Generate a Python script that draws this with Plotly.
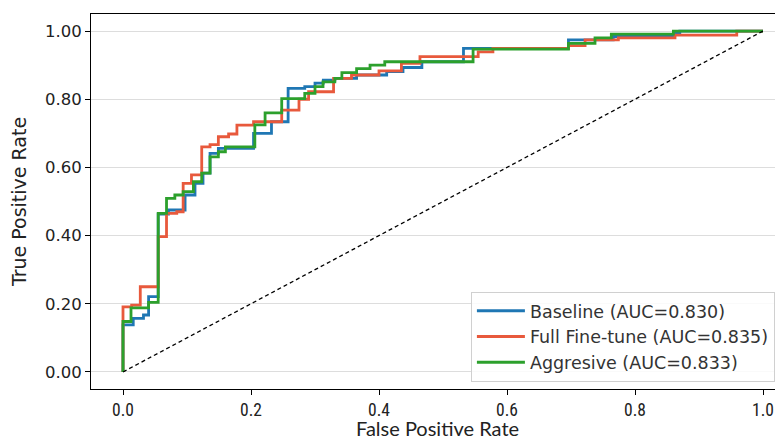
import plotly.graph_objects as go

# ROC vertices (fpr, tpr); drawn with step shape 'hv'
baseline_fpr = [0.0, 0.0, 0.016, 0.032, 0.040, 0.055, 0.071, 0.097, 0.1125, 0.125, 0.136, 0.149,
                0.204, 0.232, 0.258, 0.284, 0.300, 0.313, 0.331, 0.365, 0.412, 0.4375, 0.467,
                0.532, 0.696, 0.766, 0.860, 0.870, 1.0]
baseline_tpr = [0.0, 0.138, 0.157, 0.167, 0.221, 0.463, 0.475, 0.519, 0.553, 0.583, 0.641, 0.656,
                0.700, 0.734, 0.832, 0.837, 0.847, 0.856, 0.861, 0.871, 0.881, 0.893, 0.910,
                0.949, 0.974, 0.984, 0.995, 1.0, 1.0]

full_fpr = [0.0, 0.0, 0.0135, 0.027, 0.055, 0.068, 0.084, 0.094, 0.107, 0.123, 0.136, 0.149,
            0.165, 0.178, 0.204, 0.248, 0.275, 0.290, 0.329, 0.357, 0.400, 0.435, 0.464,
            0.555, 0.578, 0.696, 0.722, 0.774, 0.8625, 0.959, 1.0]
full_tpr = [0.0, 0.191, 0.196, 0.250, 0.397, 0.465, 0.470, 0.553, 0.578, 0.660, 0.667, 0.690,
            0.698, 0.724, 0.734, 0.768, 0.800, 0.822, 0.861, 0.871, 0.883, 0.905, 0.925,
            0.939, 0.949, 0.957, 0.974, 0.980, 0.988, 1.0, 1.0]

aggr_fpr = [0.0, 0.0, 0.0125, 0.040, 0.055, 0.068, 0.081, 0.094, 0.110, 0.123, 0.136, 0.149,
            0.160, 0.206, 0.222, 0.248, 0.284, 0.300, 0.3125, 0.331, 0.342, 0.365, 0.386,
            0.409, 0.547, 0.696, 0.7375, 0.763, 0.860, 1.0]
aggr_tpr = [0.0, 0.148, 0.188, 0.204, 0.465, 0.509, 0.519, 0.529, 0.558, 0.583, 0.631, 0.646,
            0.660, 0.725, 0.760, 0.802, 0.817, 0.837, 0.851, 0.861, 0.878, 0.890, 0.900,
            0.910, 0.947, 0.964, 0.980, 0.991, 1.0, 1.0]

names = ["Baseline (AUC=0.830)", "Full Fine-tune (AUC=0.835)", "Aggresive (AUC=0.833)"]
colors = ["#1f77b4", "#e8593c", "#2ca02c"]
chance = [0.0, 1.0]

x_ticks = [0.0, 0.2, 0.4, 0.6, 0.8, 1.0]
y_ticks = [0.0, 0.2, 0.4, 0.6, 0.8, 1.0]
x_title = "False Positive Rate"
y_title = "True Positive Rate"

fig = go.Figure()
for fx, ty, nm, c in zip([baseline_fpr, full_fpr, aggr_fpr],
                         [baseline_tpr, full_tpr, aggr_tpr], names, colors):
    fig.add_trace(go.Scatter(x=fx, y=ty, mode="lines", name=nm,
                             line=dict(color=c, width=2.8, shape="hv")))

fig.add_trace(go.Scatter(x=chance, y=chance, mode="lines", showlegend=False,
                         line=dict(color="black", width=1.3, dash="4px,3px")))

# the page body adds an 8px offset, so the figure is sized 8px smaller
fig.update_layout(
    width=775, height=433,
    margin=dict(l=83, r=0, t=6, b=52),
    plot_bgcolor="white", paper_bgcolor="white",
    font=dict(family="DejaVu Sans", color="#222"),
    legend=dict(x=0.549, y=0.259, xanchor="left", yanchor="top",
                bordercolor="#d0d0d0", borderwidth=1, bgcolor="rgba(255,255,255,0.85)",
                font=dict(family="DejaVu Sans", size=17.5, color="#333"),
                tracegroupgap=0, itemwidth=48),
)
fig.add_annotation(text=x_title, xref="paper", yref="paper", x=0.5, y=0,
                   xanchor="center", yanchor="middle", yshift=-39, showarrow=False,
                   font=dict(family="Lato", size=20, color="#222"))
fig.update_xaxes(tickvals=x_ticks, tickformat=".1f",
                 automargin=False,
                 showgrid=False, zeroline=False,
                 showline=True, linecolor="black", linewidth=1, mirror=True,
                 ticks="outside", ticklen=5, tickcolor="black",
                 tickfont=dict(family="Roboto Condensed, Liberation Sans Narrow, Lato", size=17.5, color="#222"))
fig.update_yaxes(range=[-0.05, 1.05], tickvals=y_ticks, tickformat=".2f",
                 automargin=False,
                 showgrid=True, gridcolor="#dddddd", gridwidth=1,
                 zeroline=True, zerolinecolor="#dddddd", zerolinewidth=1,
                 showline=True, linecolor="black", linewidth=1,
                 ticks="outside", ticklen=5, tickcolor="black",
                 tickfont=dict(family="DejaVu Sans", size=16.5, color="#222"),
                 title=dict(text=y_title, standoff=14,
                            font=dict(family="DejaVu Sans", size=19, color="#222")))

# visible x-range: plot spans 692px at 640px per unit, from -0.05
fig.update_xaxes(range=[-0.05, -0.05 + 692 / 640])

fig.write_html("out.html")
